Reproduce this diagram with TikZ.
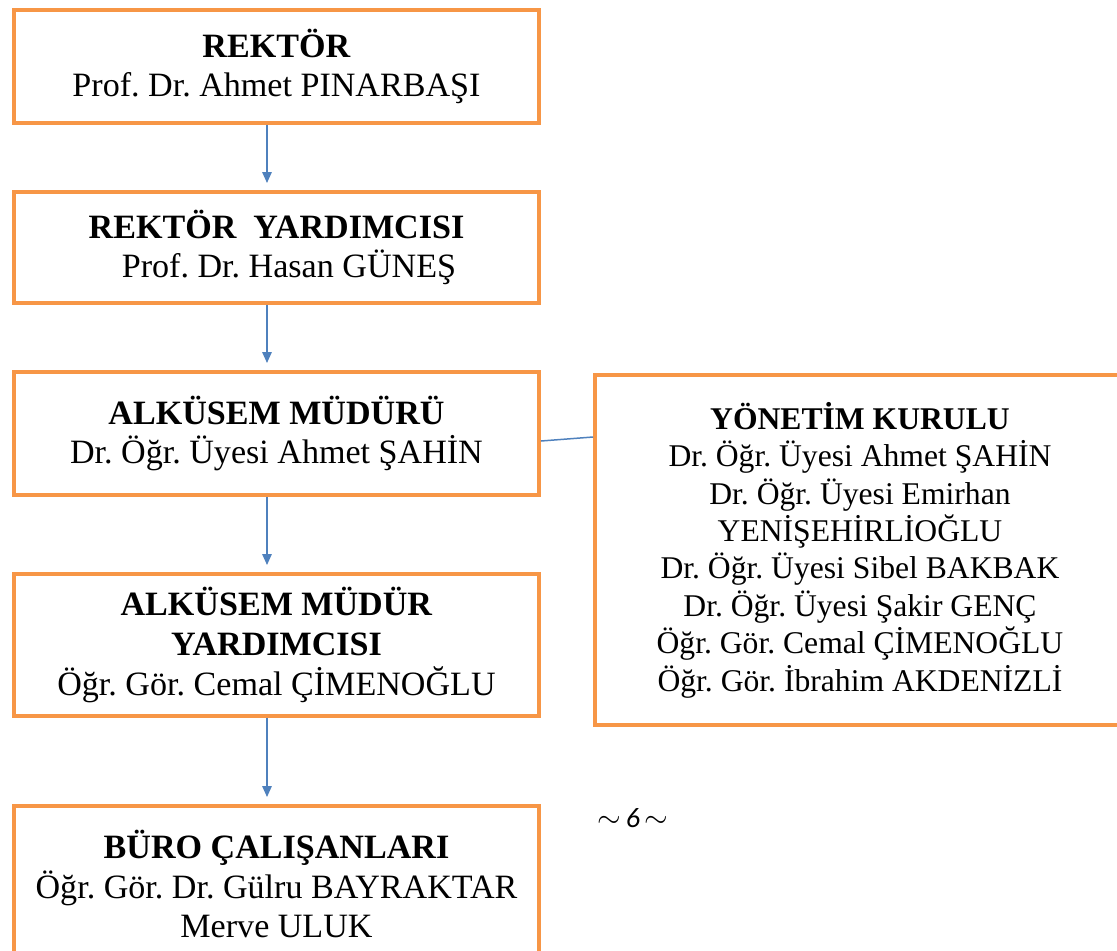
\documentclass[tikz,border=0pt]{standalone}
\usepackage{fontspec}
\setmainfont{Liberation Serif}
\newfontfamily\sayfafont{Carlito}
\usetikzlibrary{arrows.meta}
\definecolor{turuncu}{HTML}{F79646}
\definecolor{mavi}{HTML}{4F81BD}
\frenchspacing
\tikzset{
  kutu/.style={draw=turuncu, line width=0.08cm, inner sep=0pt, align=center,
    minimum width=10.5cm, font=\fontsize{19.4}{22.5}\selectfont},
  ok/.style={draw=mavi, line width=0.03cm, -{Triangle[length=0.22cm,width=0.19cm]},
    shorten >=0.14cm},
  baglanti/.style={draw=mavi, line width=0.03cm}
}
\begin{document}
\begin{tikzpicture}[x=0.02cm, y=-0.02cm]
    \useasboundingbox (0,0) rectangle (1117,951);

    \node[kutu, minimum height=2.26cm] (rektor) at (276.5,66.5)
        {\textbf{REKTÖR}\\Prof. Dr. Ahmet PINARBAŞI};
    \node[kutu, minimum height=2.22cm] (yardimci) at (276.5,247.5)
        {\textbf{REKTÖR\ \ YARDIMCISI}\\\hspace*{0.5cm}Prof. Dr. Hasan GÜNEŞ};
    \node[kutu, minimum height=2.46cm] (mudur) at (276.5,433.5)
        {\textbf{ALKÜSEM MÜDÜRÜ}\\Dr. Öğr. Üyesi Ahmet ŞAHİN};
    \node[kutu, minimum height=2.84cm] (mudyard) at (276.5,645)
        {\textbf{ALKÜSEM MÜDÜR}\\\textbf{YARDIMCISI}\\Öğr. Gör. Cemal ÇİMENOĞLU};
    \node[kutu, minimum height=3.12cm] (buro) at (276.5,884)
        {\textbf{BÜRO ÇALIŞANLARI}\\Öğr. Gör. Dr. Gülru BAYRAKTAR\\Merve ULUK};

    \node[kutu, minimum width=10.6cm, minimum height=7cm,
          font=\fontsize{18}{21.3}\selectfont] (kurul) at (860,550)
        {\textbf{YÖNETİM KURULU}\\Dr. Öğr. Üyesi Ahmet ŞAHİN\\Dr. Öğr. Üyesi Emirhan\\
         YENİŞEHİRLİOĞLU\\Dr. Öğr. Üyesi Sibel BAKBAK\\Dr. Öğr. Üyesi Şakir GENÇ\\
         Öğr. Gör. Cemal ÇİMENOĞLU\\Öğr. Gör. İbrahim AKDENİZLİ};

    \path[ok] ([xshift=-0.19cm]rektor.south) -- ([xshift=-0.19cm]yardimci.north);
    \path[ok] ([xshift=-0.19cm]yardimci.south) -- ([xshift=-0.19cm]mudur.north);
    \path[ok] ([xshift=-0.19cm]mudur.south) -- ([xshift=-0.19cm]mudyard.north);
    \path[ok] ([xshift=-0.19cm]mudyard.south) -- ([xshift=-0.19cm]buro.north);

    \path[baglanti] ([yshift=-0.15cm]mudur.east) -- ([yshift=-0.07cm]mudur.east -| kurul.west);

    \node (sayfa) at (633,818) {\sayfafont\itshape\fontsize{16}{18}\selectfont$\sim$\,6\,$\sim$};
\end{tikzpicture}
\end{document}
